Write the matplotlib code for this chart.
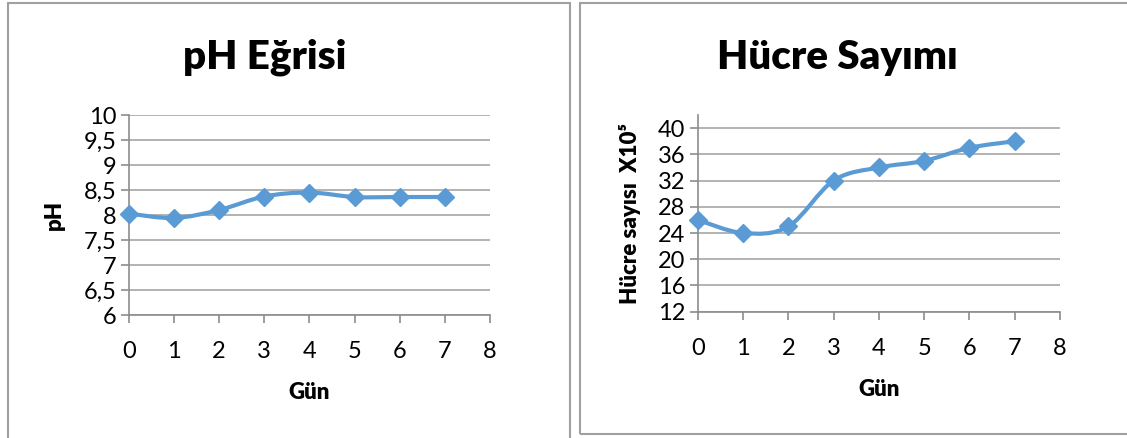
import numpy as np
import matplotlib.pyplot as plt
from matplotlib.path import Path
from matplotlib.patches import PathPatch, Rectangle

plt.rcParams['font.family'] = ['Lato', 'DejaVu Sans']

# Ölçüm verileri
gun = [0, 1, 2, 3, 4, 5, 6, 7]
ph = [8.03, 7.94, 8.10, 8.37, 8.45, 8.36, 8.36, 8.36]
hucre = [26, 24, 25, 32, 34, 35, 37, 38]

ph_ticks = [6, 6.5, 7, 7.5, 8, 8.5, 9, 9.5, 10]
ph_labels = ['6', '6,5', '7', '7,5', '8', '8,5', '9', '9,5', '10']
hucre_ticks = [12, 16, 20, 24, 28, 32, 36, 40]
gun_ticks = [0, 1, 2, 3, 4, 5, 6, 7, 8]

BLUE = '#5B9BD5'
GRID = '#A6A6A6'
AXIS = '#8C8C8C'


# Excel tarzı yumuşatılmış çizgi (Bezier kontrol noktaları)
def smooth_path(x, y):
    pts = np.column_stack([x, y]).astype(float)
    n = len(pts)
    verts = [pts[0]]
    codes = [Path.MOVETO]
    for i in range(n - 1):
        p0 = pts[i - 1] if i > 0 else pts[i]
        p1 = pts[i]
        p2 = pts[i + 1]
        p3 = pts[i + 2] if i + 2 < n else pts[i + 1]
        c1 = p1 + (p2 - p0) / 6
        c2 = p2 - (p3 - p1) / 6
        verts += [c1, c2, p2]
        codes += [Path.CURVE4] * 3
    return Path(verts, codes)


def style_axes(ax):
    ax.grid(axis='y', color=GRID, linewidth=1.2)
    ax.set_axisbelow(True)
    for s in ['top', 'right']:
        ax.spines[s].set_visible(False)
    for s in ['left', 'bottom']:
        ax.spines[s].set_color(AXIS)
        ax.spines[s].set_linewidth(1.2)
    ax.tick_params(axis='y', length=6, width=1.2, color=AXIS, pad=3, labelsize=17)
    ax.tick_params(axis='x', length=6, width=1.2, color=AXIS, pad=13, labelsize=17)
    ax.set_xlim(0, 8)
    ax.set_xticks(gun_ticks)
    ax.set_xlabel('Gün', fontsize=16, fontweight='heavy', labelpad=14)


def draw_series(ax, x, y):
    ax.add_patch(PathPatch(smooth_path(x, y), facecolor='none', edgecolor=BLUE,
                           linewidth=3, zorder=3, clip_on=False))
    ax.plot(x, y, linestyle='none', marker='D', markersize=9.5, color=BLUE,
            zorder=4, clip_on=False)


fig = plt.figure(figsize=(11.27, 4.38), dpi=100)

# Grafik çerçeveleri
fig.patches.append(Rectangle((8 / 1127, -0.1), (570 - 8) / 1127, 1.1 - 3 / 438,
                             transform=fig.transFigure, fill=False,
                             edgecolor='#A0A0A0', linewidth=1.5))
fig.patches.append(Rectangle((580 / 1127, 1 - 434 / 438), 0.6, (434 - 3) / 438,
                             transform=fig.transFigure, fill=False,
                             edgecolor='#A0A0A0', linewidth=1.5))

# pH grafiği
ax1 = fig.add_axes([0.1142, 0.2808, 0.3206, 0.4566])
style_axes(ax1)
ax1.set_ylim(6, 10)
ax1.set_yticks(ph_ticks)
ax1.set_yticklabels(ph_labels)
ax1.set_ylabel('pH', fontsize=16, fontweight='heavy', labelpad=13)
draw_series(ax1, gun, ph)
fig.text(265 / 1127, 1 - 57 / 438, 'pH Eğrisi', fontsize=29, fontweight='heavy',
         ha='center', va='center')

# Hücre sayımı grafiği
ax2 = fig.add_axes([0.6191, 0.2884, 0.3215, 0.4490])
style_axes(ax2)
ax2.set_ylim(12, 42)
ax2.set_yticks(hucre_ticks)
ax2.set_ylabel('Hücre sayısı  X10⁵', fontsize=16, fontweight='heavy', labelpad=12)
draw_series(ax2, gun, hucre)
fig.text(837 / 1127, 1 - 57 / 438, 'Hücre Sayımı', fontsize=29, fontweight='heavy',
         ha='center', va='center')

fig.savefig('out.png', dpi=100, facecolor='white')
